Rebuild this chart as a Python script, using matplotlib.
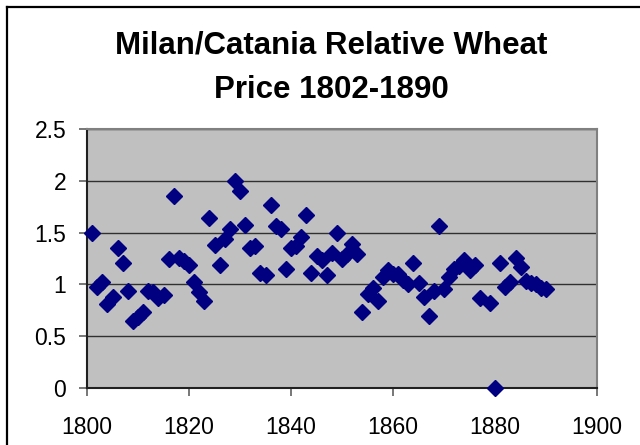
import matplotlib.pyplot as plt
from matplotlib.lines import Line2D

# Milan/Catania relative wheat price
years = [1801, 1802, 1803, 1804, 1805, 1806, 1807, 1808, 1809, 1810,
         1811, 1812, 1813, 1814, 1815, 1816, 1817, 1818, 1819, 1820,
         1821, 1822, 1823, 1824, 1825, 1826, 1827, 1828, 1829, 1830,
         1831, 1832, 1833, 1834, 1835, 1836, 1837, 1838, 1839, 1840,
         1841, 1842, 1843, 1844, 1845, 1846, 1847, 1848, 1849, 1850,
         1851, 1852, 1853, 1854, 1855, 1856, 1857, 1858, 1859, 1860,
         1861, 1862, 1863, 1864, 1865, 1866, 1867, 1868, 1869, 1870,
         1871, 1872, 1873, 1874, 1875, 1876, 1877, 1879, 1880, 1881,
         1882, 1883, 1884, 1885, 1886, 1887, 1888, 1889, 1890]
ratio = [1.50, 0.98, 1.02, 0.81, 0.88, 1.35, 1.21, 0.94, 0.65, 0.69,
         0.73, 0.94, 0.93, 0.87, 0.90, 1.25, 1.85, 1.26, 1.23, 1.19,
         1.02, 0.93, 0.84, 1.64, 1.38, 1.19, 1.44, 1.54, 2.00, 1.90,
         1.57, 1.35, 1.37, 1.11, 1.09, 1.77, 1.56, 1.54, 1.15, 1.35,
         1.37, 1.46, 1.67, 1.11, 1.27, 1.24, 1.09, 1.30, 1.50, 1.25,
         1.29, 1.39, 1.29, 0.73, 0.91, 0.97, 0.84, 1.07, 1.14, 1.10,
         1.10, 1.04, 1.00, 1.21, 1.01, 0.88, 0.70, 0.94, 1.56, 0.96,
         1.07, 1.15, 1.18, 1.24, 1.14, 1.19, 0.87, 0.82, 0.00, 1.21,
         0.98, 1.02, 1.26, 1.17, 1.03, 1.01, 1.00, 0.97, 0.96]

title = "Milan/Catania Relative Wheat\nPrice 1802-1890"
xticks = [1800, 1820, 1840, 1860, 1880, 1900]
yticks = [0, 0.5, 1, 1.5, 2, 2.5]
ytick_labels = ["0", "0.5", "1", "1.5", "2", "2.5"]

plt.rcParams['font.family'] = ['Liberation Sans', 'DejaVu Sans']

fig = plt.figure(figsize=(6.4, 4.45), dpi=100)
fig.patch.set_facecolor("white")

# outer chart border (only left and top are visible in the crop)
fig.add_artist(Line2D([0.011, 0.011], [0.0, 0.985], transform=fig.transFigure, color="black", lw=1.6))
fig.add_artist(Line2D([0.011, 1.0], [0.985, 0.985], transform=fig.transFigure, color="black", lw=1.6))

ax = fig.add_axes([0.136, 0.128, 0.797, 0.582])
ax.set_facecolor("#c0c0c0")
ax.plot(years, ratio, linestyle="none", marker="D", markersize=8,
        color="#000080", clip_on=False, zorder=3)

ax.set_xlim(1800, 1900)
ax.set_ylim(0, 2.5)
ax.set_xticks(xticks)
ax.set_yticks(yticks)
ax.set_yticklabels(ytick_labels)
ax.grid(axis="y", color="#303030", linewidth=1.0)
ax.set_axisbelow(True)

for side in ["top", "right"]:
    ax.spines[side].set_color("#808080")
    ax.spines[side].set_linewidth(1.5)
for side in ["left", "bottom"]:
    ax.spines[side].set_color("#202020")
    ax.spines[side].set_linewidth(1.5)

ax.tick_params(axis="both", direction="out", length=6, width=1.2,
               color="#606060", labelsize=16.5)
ax.tick_params(axis="y", pad=9)
ax.tick_params(axis="x", pad=14)

fig.text(0.517, 0.848, title, ha="center", va="center", fontsize=22.5,
         fontweight="bold", linespacing=1.6)

fig.savefig("out.png", dpi=100)
